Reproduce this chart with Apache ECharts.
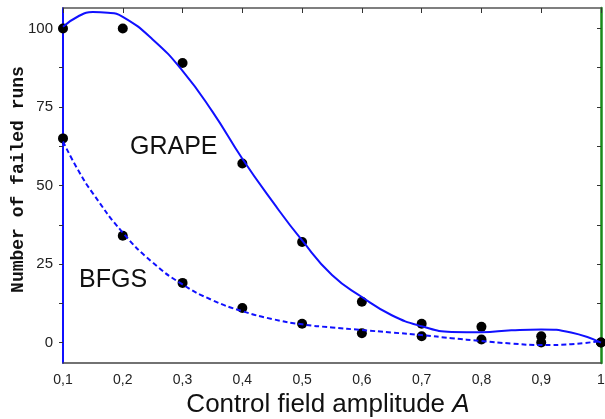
<!DOCTYPE html>
<html><head><meta charset="utf-8">
<script src="https://cdn.jsdelivr.net/npm/echarts@6/dist/echarts.min.js"></script>
<style>html,body{margin:0;padding:0;background:#fff}#c{width:605px;height:419px}</style>
</head><body><div id="c"></div>
<script>
// Measured data points (amplitude A, number of failed runs)
const amplitudes = [0.1, 0.2, 0.3, 0.4, 0.5, 0.6, 0.7, 0.8, 0.9, 1.0];
const grapeRuns = [100, 100, 89, 57, 32, 13, 6, 5, 2, 0];
const bfgsRuns  = [65, 34, 19, 11, 6, 3, 2, 1, 0, 0];

// Fitted curves
const grapeFitX = [0.1, 0.125, 0.15, 0.175, 0.2, 0.25, 0.3, 0.35, 0.4, 0.45, 0.5, 0.55, 0.6, 0.65, 0.7, 0.75, 0.8, 0.85, 0.9, 0.95, 1.0];
const grapeFitY = [100.5, 103.8, 105.2, 105, 103.7, 96.5, 86.5, 73.5, 58.5, 45, 32.5, 21.5, 14.5, 8.7, 5.2, 3.4, 3.3, 3.9, 4.2, 3.2, 0];
const bfgsFitX = [0.1, 0.125, 0.15, 0.2, 0.25, 0.3, 0.35, 0.4, 0.45, 0.5, 0.55, 0.6, 0.65, 0.7, 0.75, 0.8, 0.85, 0.9, 0.95, 1.0];
const bfgsFitY = [64, 55, 47.5, 35, 25.5, 18.5, 13.5, 10, 7.5, 5.8, 4.8, 4.0, 3.2, 2.4, 1.4, 0.5, -0.3, -0.8, -0.5, 0.5];

const xTicks = [0.1, 0.2, 0.3, 0.4, 0.5, 0.6, 0.7, 0.8, 0.9, 1];
const yLabels = [0, 25, 50, 75, 100];
const yTicks = [0, 12.5, 25, 37.5, 50, 62.5, 75, 87.5, 100];

const zip = (a, b) => a.map((v, i) => [v, b[i]]);
const fmtX = v => String(Math.round(v * 10) / 10).replace('.', ',');

const chart = echarts.init(document.getElementById('c'), null, {renderer: 'canvas'});
chart.setOption({
  animation: false,
  grid: {left: 63, right: 4, top: 8, bottom: 56, containLabel: false, outerBoundsMode: 'none'},
  xAxis: [{
    type: 'value', min: 0.1, max: 1, position: 'bottom',
    axisLine: {show: true, onZero: false, lineStyle: {color: '#444', width: 1.5}},
    axisTick: {show: false},
    splitLine: {show: false},
    axisLabel: {customValues: xTicks, formatter: fmtX, color: '#222', fontFamily: 'Liberation Sans', fontSize: 14, margin: 10},
    name: 'Control field amplitude {i|A}',
    nameLocation: 'middle', nameGap: 29, nameMoveOverlap: false,
    nameTextStyle: {fontFamily: 'Liberation Sans', fontSize: 26, color: '#111', padding: [0, 8, 0, 0],
      rich: {i: {fontFamily: 'Liberation Sans', fontStyle: 'italic', fontSize: 26, color: '#111'}}}
  }, {
    type: 'value', min: 0.1, max: 1, position: 'top',
    axisLine: {show: true, onZero: false, lineStyle: {color: '#555', width: 1.5}},
    axisTick: {show: true, inside: true, length: 5, customValues: xTicks, lineStyle: {color: '#333'}},
    axisLabel: {show: false}, splitLine: {show: false}
  }],
  yAxis: [{
    type: 'value', min: -6.5, max: 106.5, position: 'left',
    axisLine: {show: true, onZero: false, lineStyle: {color: '#1010ff', width: 2}},
    axisTick: {show: true, length: 4, customValues: yTicks, lineStyle: {color: '#333'}},
    axisLabel: {customValues: yLabels, color: '#222', fontFamily: 'Liberation Sans', fontSize: 15, margin: 10},
    splitLine: {show: false},
    name: 'Number of failed runs', nameLocation: 'middle', nameGap: 36, nameRotate: 90, nameMoveOverlap: false,
    nameTextStyle: {fontFamily: 'Liberation Mono', fontWeight: 'bold', fontSize: 18, color: '#111', padding: [0, 0, 0, 12]}
  }, {
    type: 'value', min: -6.5, max: 106.5, position: 'right',
    axisLine: {show: true, onZero: false, lineStyle: {color: '#1a8a1a', width: 2.5}},
    axisTick: {show: true, inside: true, length: 4, customValues: yTicks, lineStyle: {color: '#333'}},
    axisLabel: {show: false}, splitLine: {show: false}
  }],
  series: [
    {type: 'line', name: 'GRAPE fit', data: zip(grapeFitX, grapeFitY), smooth: 0.5, showSymbol: false,
      lineStyle: {color: '#1010ff', width: 2}},
    {type: 'line', name: 'BFGS fit', data: zip(bfgsFitX, bfgsFitY), smooth: 0.5, showSymbol: false,
      lineStyle: {color: '#1010ff', width: 2, type: [5, 3]}},
    {type: 'scatter', name: 'GRAPE', data: zip(amplitudes, grapeRuns), symbolSize: 10,
      itemStyle: {color: '#000', opacity: 1}},
    {type: 'scatter', name: 'BFGS', data: zip(amplitudes, bfgsRuns), symbolSize: 10,
      itemStyle: {color: '#000', opacity: 1}}
  ],
  graphic: [
    {type: 'text', left: 130, top: 135, style: {text: 'GRAPE', font: '25px "Liberation Sans"', fill: '#111'}},
    {type: 'text', left: 79, top: 268, style: {text: 'BFGS', font: '25px "Liberation Sans"', fill: '#111'}}
  ]
});
</script></body></html>
